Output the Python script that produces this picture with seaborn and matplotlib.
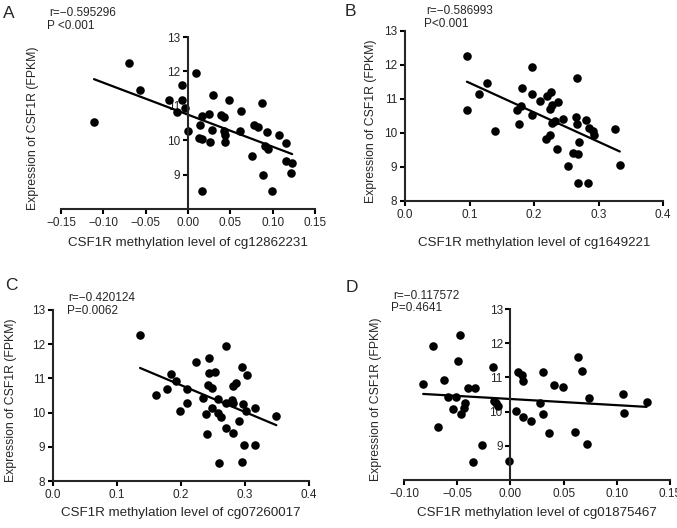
import numpy as np
import pandas as pd
import matplotlib
matplotlib.use("Agg")
import matplotlib.pyplot as plt
from matplotlib.ticker import FuncFormatter
import seaborn as sns

# values
a_x = [-0.111, -0.070, -0.057, -0.023, -0.007, -0.007, -0.003, -0.013, 0.000, 0.010,
       0.014, 0.013, 0.017, 0.017, 0.016, 0.025, 0.026, 0.029, 0.028, 0.039,
       0.042, 0.043, 0.044, 0.044, 0.048, 0.061, 0.063, 0.076, 0.078, 0.083,
       0.087, 0.089, 0.091, 0.093, 0.095, 0.099, 0.108, 0.116, 0.116, 0.123, 0.122]
a_y = [10.53, 12.25, 11.47, 11.16, 11.61, 11.16, 10.94, 10.82, 10.27, 11.94,
       10.43, 10.06, 10.04, 10.69, 8.52, 10.76, 9.94, 11.31, 10.31, 10.73,
       10.67, 10.27, 10.14, 9.96, 11.18, 10.27, 10.86, 9.53, 10.45, 10.37,
       11.08, 9.00, 9.84, 10.25, 9.73, 8.53, 10.14, 9.92, 9.39, 9.35, 9.04]

b_x = [0.096, 0.096, 0.115, 0.127, 0.139, 0.173, 0.177, 0.180, 0.181, 0.197,
       0.197, 0.197, 0.209, 0.218, 0.220, 0.225, 0.226, 0.225, 0.228, 0.228,
       0.233, 0.235, 0.237, 0.245, 0.252, 0.261, 0.266, 0.265, 0.267, 0.268,
       0.268, 0.269, 0.284, 0.281, 0.285, 0.291, 0.293, 0.325, 0.333]
b_y = [12.26, 10.67, 11.16, 11.47, 10.06, 10.67, 10.26, 10.79, 11.32, 11.94,
       11.16, 10.53, 10.95, 9.83, 11.08, 9.95, 11.20, 10.71, 10.81, 10.28,
       10.36, 9.54, 10.91, 10.42, 9.03, 9.40, 11.61, 10.46, 10.26, 8.52,
       9.38, 9.73, 8.54, 10.38, 10.14, 10.06, 9.93, 10.12, 9.05]

c_x = [0.136, 0.161, 0.178, 0.184, 0.192, 0.199, 0.209, 0.210, 0.224, 0.235,
       0.239, 0.243, 0.242, 0.244, 0.241, 0.248, 0.249, 0.253, 0.258, 0.258,
       0.259, 0.262, 0.270, 0.270, 0.271, 0.279, 0.281, 0.282, 0.282, 0.286,
       0.291, 0.295, 0.296, 0.297, 0.298, 0.301, 0.303, 0.315, 0.316, 0.349]
c_y = [12.26, 10.52, 10.68, 11.14, 10.93, 10.05, 10.68, 10.27, 11.48, 10.44,
       9.95, 11.61, 10.81, 11.16, 9.37, 10.73, 10.13, 11.20, 10.40, 9.99,
       8.53, 9.86, 11.95, 10.27, 9.54, 10.38, 10.27, 10.77, 9.39, 10.87,
       9.74, 8.55, 11.32, 10.25, 9.04, 10.05, 11.09, 10.13, 9.05, 9.91]

d_x = [-0.082, -0.073, -0.068, -0.062, -0.059, -0.054, -0.051, -0.049, -0.047, -0.046,
       -0.044, -0.043, -0.040, -0.033, -0.035, -0.027, -0.016, -0.015, -0.014, -0.012,
       -0.001, 0.005, 0.007, 0.011, 0.012, 0.012, 0.019, 0.028, 0.031, 0.031,
       0.036, 0.041, 0.049, 0.061, 0.064, 0.067, 0.074, 0.072, 0.106, 0.107, 0.128]
d_y = [10.81, 11.93, 9.55, 10.93, 10.42, 10.07, 10.44, 11.48, 12.24, 9.94,
       10.11, 10.25, 10.68, 10.68, 8.53, 9.02, 11.30, 10.31, 10.25, 10.15,
       8.55, 10.03, 11.17, 11.07, 10.89, 9.84, 9.72, 10.25, 11.17, 9.92,
       9.37, 10.78, 10.72, 9.39, 11.60, 11.19, 10.39, 9.06, 10.52, 9.96, 10.27]

probes = ["cg12862231", "cg1649221", "cg07260017", "cg01875467"]
r_texts = ["r=\u22120.595296", "r=\u22120.586993", "r=\u22120.420124", "r=\u22120.117572"]
p_texts = ["P <0.001", "P<0.001", "P=0.0062", "P=0.4641"]
letters = ["A", "B", "C", "D"]

sns.set_style("ticks")
plt.rcParams["font.family"] = ["Liberation Sans", "DejaVu Sans"]
plt.rcParams["axes.linewidth"] = 1.5

W, H = 677, 528
fig = plt.figure(figsize=(W / 100, H / 100), dpi=100)

# panel setup: (left, top, right, bottom) in pixels, xlim, xticks, decimals, yticks, spine at 0
panels = [
    (a_x, a_y, (61, 37, 315, 209), (-0.15, 0.15), np.arange(-0.15, 0.151, 0.05), 2, [9, 10, 11, 12, 13], True, (-0.11, -0.198)),
    (b_x, b_y, (405, 31, 663, 201), (0.0, 0.4), np.arange(0, 0.41, 0.1), 1, [8, 9, 10, 11, 12, 13], False, (-0.13, -0.247)),
    (c_x, c_y, (53, 310, 309, 481), (0.0, 0.4), np.arange(0, 0.41, 0.1), 1, [8, 9, 10, 11, 12, 13], False, (-0.166, -0.187)),
    (d_x, d_y, (404, 309, 670, 480), (-0.10, 0.15), np.arange(-0.10, 0.151, 0.05), 2, [9, 10, 11, 12, 13], True, (-0.104, -0.193)),
]

for i, (xs, ys, box, xlim, xticks, dec, yticks, mid, lab) in enumerate(panels):
    l, t, r, b = box
    ax = fig.add_axes([l / W, 1 - b / H, (r - l) / W, (b - t) / H])
    df = pd.DataFrame({"meth": xs, "expr": ys})
    sns.regplot(data=df, x="meth", y="expr", ax=ax, ci=None, color="black",
                scatter_kws=dict(s=38, linewidths=0, alpha=1),
                line_kws=dict(lw=1.6))
    ax.set_xlim(*xlim)
    ax.set_ylim(8, 13)
    ax.set_xticks(xticks)
    ax.set_yticks(yticks)
    ax.xaxis.set_major_formatter(FuncFormatter(
        lambda v, _, d=dec: f"{v:.{d}f}".replace("-", "\u2212")))
    ax.yaxis.set_major_formatter(FuncFormatter(lambda v, _: f"{v:.0f}"))
    ax.tick_params(width=1.5, length=3.5, labelsize=8.5, pad=2, color="black")
    for s in ["top", "right"]:
        ax.spines[s].set_visible(False)
    if mid:
        ax.spines["left"].set_position(("data", 0))
    ax.set_xlabel(f"CSF1R methylation level of {probes[i]}", fontsize=9.6)
    ax.set_ylabel("Expression of CSF1R (FPKM)", fontsize=8.8)
    ax.xaxis.label.set_va("center")
    ax.yaxis.label.set_va("center")
    ax.yaxis.set_label_coords(lab[0], 0.47)
    ax.xaxis.set_label_coords(0.5, lab[1])

# panel letters and stats text (pixel positions)
letter_pos = [(3, 13), (345, 12), (5, 285), (346, 288)]
r_pos = [(49, 13), (426, 11), (68, 298), (393, 296)]
p_pos = [(47, 26), (424, 24), (67, 311), (391, 308)]
for i in range(4):
    fig.text(letter_pos[i][0] / W, 1 - letter_pos[i][1] / H, letters[i],
             fontsize=12.5, va="center", ha="left")
    fig.text(r_pos[i][0] / W, 1 - r_pos[i][1] / H, r_texts[i],
             fontsize=8.5, va="center", ha="left")
    fig.text(p_pos[i][0] / W, 1 - p_pos[i][1] / H, p_texts[i],
             fontsize=8.5, va="center", ha="left")

fig.savefig("out.png", dpi=100)
